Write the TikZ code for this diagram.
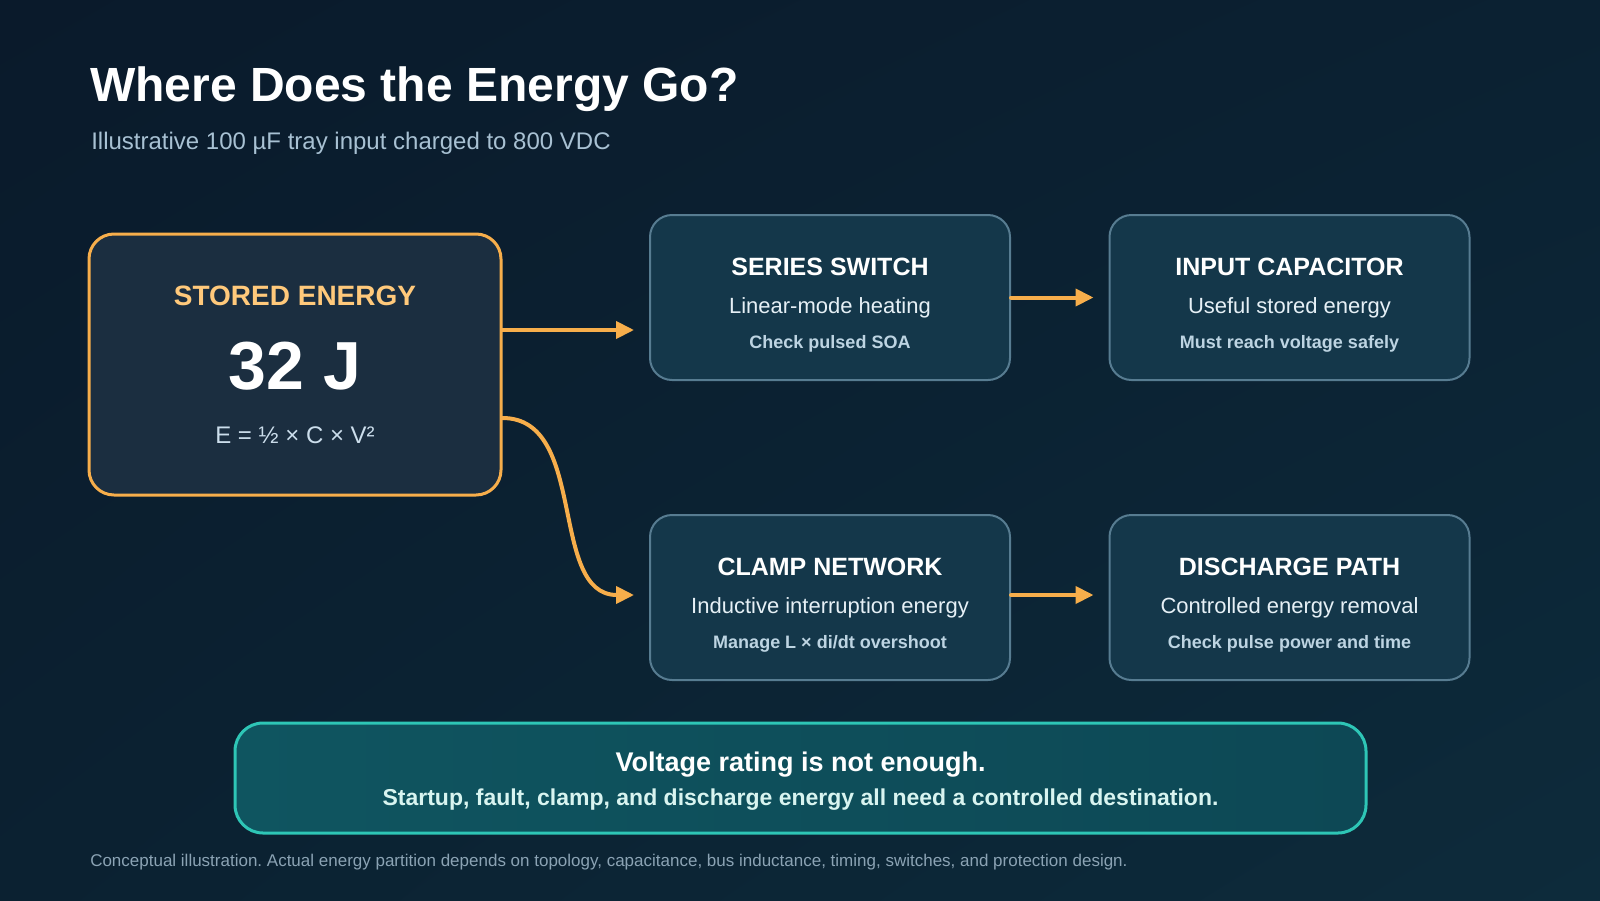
\documentclass[tikz,border=0pt]{standalone}
\usepackage{fontspec}
\setmainfont{Liberation Sans}
\usetikzlibrary{positioning,calc,arrows.meta,shadings}
\frenchspacing

\definecolor{bgtl}{HTML}{0A1A2B}
\definecolor{bgtr}{HTML}{0B2132}
\definecolor{bgbl}{HTML}{0B2131}
\definecolor{bgbr}{HTML}{0D2B3B}
\definecolor{storefill}{HTML}{1B2E40}
\definecolor{amber}{HTML}{F7AE4B}
\definecolor{amberlight}{HTML}{FFC97B}
\definecolor{formula}{HTML}{CCDEEC}
\definecolor{stagefill}{HTML}{14374A}
\definecolor{stageedge}{HTML}{577C91}
\definecolor{linecol}{HTML}{E6F0F6}
\definecolor{notecol}{HTML}{BDD4E2}
\definecolor{bannerleft}{HTML}{0F5560}
\definecolor{bannerright}{HTML}{0D4855}
\definecolor{banneredge}{HTML}{2EC6B6}
\definecolor{bannernote}{HTML}{D8F4F0}
\definecolor{subtext}{HTML}{A8C1D3}
\definecolor{foottext}{HTML}{8BA3B4}

\begin{document}
\begin{tikzpicture}[x=0.75pt, y=-0.75pt,
	every node/.style={ inner sep=0pt },
	srcbox/.style={ draw=amber, line width=2.25pt, fill=storefill, rounded corners=18.75pt, minimum width=309pt, minimum height=195.75pt },
	stagebox/.style={ draw=stageedge, line width=1.5pt, fill=stagefill, rounded corners=16.5pt, minimum width=270pt, minimum height=123.75pt },
	notebox/.style={ draw=banneredge, line width=2.25pt, left color=bannerleft, right color=bannerright, rounded corners=21pt, minimum width=848.25pt, minimum height=82.5pt },
	stagetitle/.style={ anchor=base, white, font=\fontsize{18.75pt}{22pt}\selectfont\bfseries },
	stageline/.style={ anchor=base, linecol, font=\fontsize{16.5pt}{20pt}\selectfont },
	stagenote/.style={ anchor=base, notecol, font=\fontsize{13.5pt}{16pt}\selectfont\bfseries },
	flow/.style={ draw=amber, line width=3pt, line cap=round, -{Triangle[length=13.5pt,width=12.75pt]} }
]

% page and background
\useasboundingbox (0,0) rectangle (1600,900);
\shade[upper left=bgtl, upper right=bgtr, lower left=bgbl, lower right=bgbr] (0,0) rectangle (1600,900);

% heading
\node[anchor=base west, white, font=\fontsize{36pt}{43pt}\selectfont\bfseries] (title) at (90,101) {Where Does the Energy Go?};
\node[anchor=base west, subtext, font=\fontsize{18pt}{22pt}\selectfont] (subtitle) at (91,149) {Illustrative 100 µF tray input charged to 800 VDC};

% source of the energy
\node[srcbox] (stored) at (295,364.5) {};
\node[anchor=base, amberlight, font=\fontsize{21pt}{25pt}\selectfont\bfseries] (stored-t) at ($(stored.north)+(0,73)$) {STORED ENERGY};
\node[anchor=base, white, font=\fontsize{51pt}{60pt}\selectfont\bfseries] (stored-v) at ($(stored.north)+(0,157)$) {32 J};
\node[anchor=base, formula, font=\fontsize{18pt}{22pt}\selectfont] (stored-f) at ($(stored.north)+(0,211)$) {E = ½ × C × V²};

% where it goes
\node[stagebox] (switch) at (830,297.5) {};
\node[stagetitle] (switch-t) at ($(switch.north)+(0,61)$) {SERIES SWITCH};
\node[stageline] (switch-l) at ($(switch.north)+(0,99)$) {Linear-mode heating};
\node[stagenote] (switch-n) at ($(switch.north)+(0,134)$) {Check pulsed SOA};

\node[stagebox] (cap) at (1289.5,297.5) {};
\node[stagetitle] (cap-t) at ($(cap.north)+(0,61)$) {INPUT CAPACITOR};
\node[stageline] (cap-l) at ($(cap.north)+(0,99)$) {Useful stored energy};
\node[stagenote] (cap-n) at ($(cap.north)+(0,134)$) {Must reach voltage safely};

\node[stagebox] (clamp) at (830,597.5) {};
\node[stagetitle] (clamp-t) at ($(clamp.north)+(0,61)$) {CLAMP NETWORK};
\node[stageline] (clamp-l) at ($(clamp.north)+(0,99)$) {Inductive interruption energy};
\node[stagenote] (clamp-n) at ($(clamp.north)+(0,134)$) {Manage L × di/dt overshoot};

\node[stagebox] (discharge) at (1289.5,597.5) {};
\node[stagetitle] (discharge-t) at ($(discharge.north)+(0,61)$) {DISCHARGE PATH};
\node[stageline] (discharge-l) at ($(discharge.north)+(0,99)$) {Controlled energy removal};
\node[stagenote] (discharge-n) at ($(discharge.north)+(0,134)$) {Check pulse power and time};

% energy flow
\draw[flow] ($(stored.east)+(0,-34.5)$) -- ($(switch.west)+(-15,32.5)$);
\draw[flow] ($(stored.east)+(0,53.5)$) to[out=0,in=180] ($(clamp.west)+(-15,-2.5)$);
\draw[flow] (switch.east) -- ($(cap.west)+(-15,0)$);
\draw[flow] ($(clamp.east)+(0,-2.5)$) -- ($(discharge.west)+(-15,-2.5)$);

% takeaway
\node[notebox] (banner) at (800.5,778) {};
\node[anchor=base, white, font=\fontsize{20.25pt}{24pt}\selectfont\bfseries] (banner-t) at ($(banner.north)+(0,49.5)$) {Voltage rating is not enough.};
\node[anchor=base, bannernote, font=\fontsize{17.25pt}{20pt}\selectfont\bfseries] (banner-n) at ($(banner.north)+(0,84)$) {Startup, fault, clamp, and discharge energy all need a controlled destination.};

\node[anchor=base west, foottext, font=\fontsize{12.75pt}{15pt}\selectfont] (foot) at (90,866) {Conceptual illustration. Actual energy partition depends on topology, capacitance, bus inductance, timing, switches, and protection design.};

\end{tikzpicture}
\end{document}
